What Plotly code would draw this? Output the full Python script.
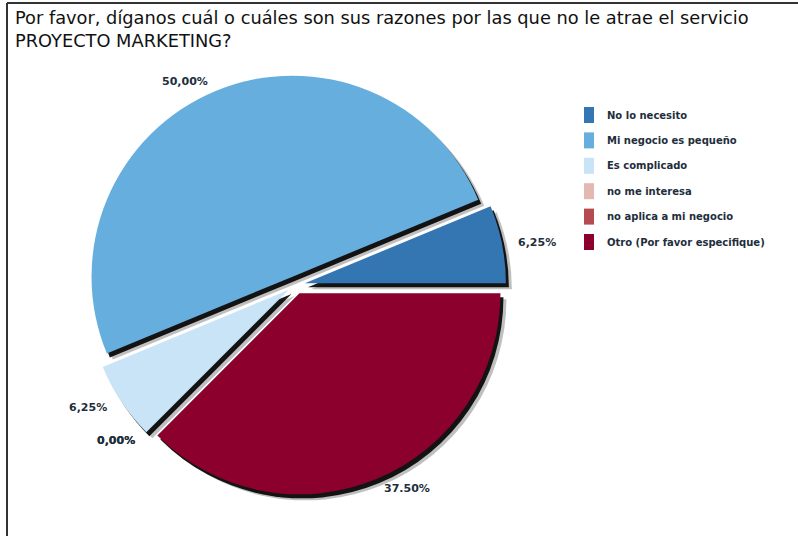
import math
import plotly.graph_objects as go

# Survey responses: why the "PROYECTO MARKETING" service is not attractive
categories = [
    "No lo necesito",
    "Mi negocio es pequeño",
    "Es complicado",
    "no me interesa",
    "no aplica a mi negocio",
    "Otro (Por favor especifique)",
]
shares = [6.25, 50.00, 6.25, 0.00, 0.00, 37.50]
share_labels = ["6,25%", "50,00%", "6,25%", "0,00%", "0,00%", "37.50%"]
colors = ["#3476B2", "#66AEDD", "#C9E3F7", "#E3B8AE", "#B54A50", "#8C002E"]

title_text = ("Por favor, díganos cuál o cuáles son sus razones por las que no le atrae el servicio"
              "<br>PROYECTO MARKETING?")

W, H = 798, 536
cx, cy = 296, 285          # pie centre in pixels (from top-left)
radius = 201
pull = 0.045
half = radius * (1 + pull)
total = sum(shares)

# first slice begins at 3 o'clock and the slices run counter-clockwise
rotation = 90 - 360 * shares[0] / total


def pie_domain(dx=0, dy=0):
    x0 = (cx + dx - half) / W
    x1 = (cx + dx + half) / W
    y0 = (H - (cy + dy) - half) / H
    y1 = (H - (cy + dy) + half) / H
    return dict(x=[x0, x1], y=[y0, y1])


common = dict(
    labels=categories,
    values=shares,
    sort=False,
    direction="counterclockwise",
    rotation=rotation,
    pull=[pull] * len(shares),
    showlegend=False,
    textinfo="none",
)

fig = go.Figure()

# soft drop shadow below the slices
fig.add_trace(go.Pie(
    **common,
    domain=pie_domain(6, 6),
    marker=dict(colors=["rgba(0,0,0,0.25)"] * len(shares), line=dict(width=0)),
    hoverinfo="skip",
))
fig.add_trace(go.Pie(
    **common,
    domain=pie_domain(3, 4),
    marker=dict(colors=["rgba(0,0,0,0.9)"] * len(shares), line=dict(width=0)),
    hoverinfo="skip",
))

# the pie itself
fig.add_trace(go.Pie(
    **common,
    domain=pie_domain(0, 0),
    marker=dict(colors=colors, line=dict(width=0)),
    hovertemplate="%{label}: %{value}%<extra></extra>",
))

shapes = []
annotations = []

label_font = dict(family="DejaVu Sans", size=11, color="#1E2E3C", weight="bold")

# percentage labels just outside each slice, at the slice's mid angle
start = 0.0
label_dist = radius * (1 + pull) + 10
for share, txt in zip(shares, share_labels):
    mid = math.radians(start + 180 * share / total)
    start += 360 * share / total
    px = cx + label_dist * 1.02 * math.cos(mid)
    py = cy - label_dist * math.sin(mid)
    annotations.append(dict(
        xref="paper", yref="paper", x=px / W, y=(H - py) / H,
        xanchor="left" if math.cos(mid) >= 0 else "right", yanchor="middle",
        showarrow=False, text=txt, font=label_font,
    ))

# legend drawn as coloured bars with bold captions
leg_x0, leg_y0, leg_step = 584, 115, 25.4
for i, (name, col) in enumerate(zip(categories, colors)):
    yc = leg_y0 + i * leg_step
    shapes.append(dict(
        type="rect", xref="paper", yref="paper",
        x0=leg_x0 / W, x1=(leg_x0 + 10) / W,
        y0=(H - yc - 8) / H, y1=(H - yc + 8) / H,
        fillcolor=col, line=dict(width=0),
    ))
    annotations.append(dict(
        xref="paper", yref="paper", x=605 / W, y=(H - yc) / H,
        xanchor="left", yanchor="middle", showarrow=False,
        text=name,
        font=dict(family="DejaVu Sans", size=10, color="#1E2E3C", weight="bold"),
    ))

# title
annotations.append(dict(
    xref="paper", yref="paper", x=13 / W, y=(H - 5) / H,
    xanchor="left", yanchor="top", align="left", showarrow=False,
    text=title_text,
    font=dict(family="DejaVu Sans", size=17.8, color="#111111"),
))

# frame lines along the top and left edges
shapes.append(dict(type="line", xref="paper", yref="paper",
                   x0=7 / W, x1=1, y0=(H - 3) / H, y1=(H - 3) / H,
                   line=dict(color="#333333", width=2)))
shapes.append(dict(type="line", xref="paper", yref="paper",
                   x0=7 / W, x1=7 / W, y0=0, y1=(H - 3) / H,
                   line=dict(color="#333333", width=2)))

fig.update_layout(
    width=W, height=H,
    margin=dict(l=0, r=0, t=0, b=0),
    paper_bgcolor="white",
    plot_bgcolor="white",
    shapes=shapes,
    annotations=annotations,
)

fig.write_html("out.html")
